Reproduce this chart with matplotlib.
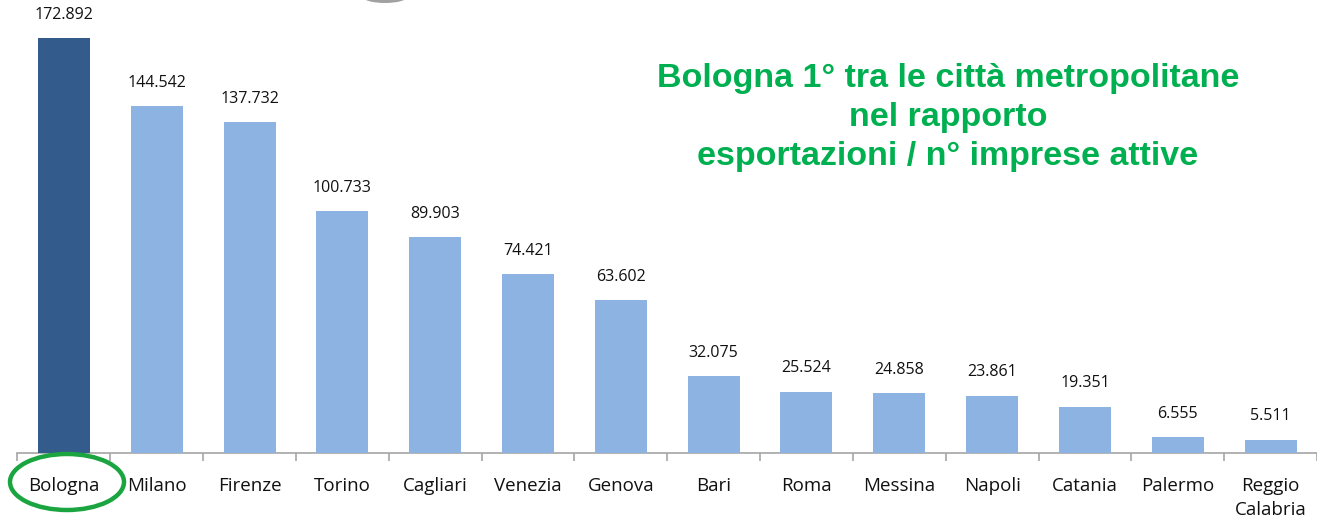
import matplotlib.pyplot as plt
import matplotlib.patches as mpatches
import numpy as np

# --- Data ---
cities = ['Bologna', 'Milano', 'Firenze', 'Torino', 'Cagliari', 'Venezia', 'Genova',
          'Bari', 'Roma', 'Messina', 'Napoli', 'Catania', 'Palermo', 'Reggio\nCalabria']
values = [172.892, 144.542, 137.732, 100.733, 89.903, 74.421, 63.602,
          32.075, 25.524, 24.858, 23.861, 19.351, 6.555, 5.511]
title_lines = ['Bologna 1° tra le città metropolitane',
               'nel rapporto',
               'esportazioni / n° imprese attive']

COLOR_HIGHLIGHT = '#335b8c'
COLOR_OTHER = '#8db3e2'
GREEN = '#00b050'

W, H = 1317, 519
STEP = 94.1  # px per category
fig = plt.figure(figsize=(W / 100, H / 100), dpi=100)
fig.patch.set_facecolor('white')

# axes placed in pixel terms: baseline 453px from top, runs off the right edge
left_px = 64.5 - STEP / 2
ax = fig.add_axes([left_px / W, (H - 453) / H, 1 - left_px / W, 453 / H])
ax.set_facecolor('none')

x = np.arange(len(cities))
colors = [COLOR_HIGHLIGHT] + [COLOR_OTHER] * (len(cities) - 1)
bars = ax.bar(x, values, width=0.56, color=colors, zorder=3)

for bar, v in zip(bars, values):
    ax.annotate(f'{v:.3f}', xy=(bar.get_x() + bar.get_width() / 2, bar.get_height()),
                xytext=(0, 11), textcoords='offset points',
                ha='center', va='bottom', fontsize=11.5, color='#111111',
                family='Open Sans')

ax.set_xlim(-0.5, -0.5 + (W - left_px) / STEP)
ax.set_ylim(0, 188.7)

ax.set_xticks(x)
ax.set_xticklabels(cities, fontsize=13.5, family='Open Sans', color='#111111',
                   linespacing=1.45)
ax.set_xticks(np.arange(-0.5, len(cities)), minor=True)
ax.tick_params(axis='x', which='major', length=0, pad=17)
ax.tick_params(axis='x', which='minor', length=6, color='#a6a6a6', width=1.2)
ax.set_yticks([])

for s in ['top', 'right', 'left']:
    ax.spines[s].set_visible(False)
ax.spines['bottom'].set_color('#a6a6a6')
ax.spines['bottom'].set_linewidth(1.2)

# --- Title block in green ---
for i, line in enumerate(title_lines):
    fig.text(948 / W, 1 - (79 + i * 38.5) / H, line, ha='center', va='center',
             fontsize=24.5, fontweight='bold', color=GREEN, family='Liberation Sans')

# --- Green ellipse around Bologna label ---
ell = mpatches.Ellipse((67 / W, 1 - 482 / H), 114 / W, 56 / H,
                       transform=fig.transFigure, fill=False,
                       edgecolor='#1aa540', linewidth=3.2)
fig.patches.append(ell)

# --- grey sliver cut at the top ---
sliver = mpatches.Ellipse((385 / W, 1 + 3 / H), 44 / W, 12 / H,
                          transform=fig.transFigure, facecolor='#8a8a8a',
                          edgecolor='none', alpha=0.8)
fig.patches.append(sliver)

plt.savefig('out.png', dpi=100)
